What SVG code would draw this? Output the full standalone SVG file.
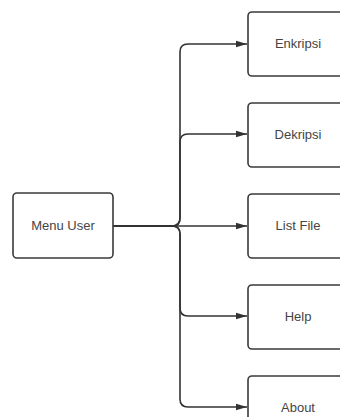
<svg xmlns="http://www.w3.org/2000/svg" width="340" height="417" viewBox="0 0 340 417">
<style>
.box{fill:#fff;stroke:#3a3a3a;stroke-width:1.6}
.lbl{font-family:"Liberation Sans",Arial,sans-serif;font-size:13px;fill:#444;text-anchor:middle}
.edge{fill:none;stroke:#333;stroke-width:1.6}
</style>
<defs>
<marker id="ah" markerWidth="11" markerHeight="8" refX="11" refY="4" orient="auto" markerUnits="userSpaceOnUse">
<path d="M0,0.8 L11,4 L0,7.2 Z" fill="#333"/>
</marker>
</defs>
<rect width="340" height="417" fill="#fff"/>
<g id="connectors">
<path class="edge" marker-end="url(#ah)" d="M113,226 H172 Q180,226 180,218 V52 Q180,44 188,44 H247"/>
<path class="edge" marker-end="url(#ah)" d="M113,226 H172 Q180,226 180,218 V142 Q180,134 188,134 H247"/>
<path class="edge" marker-end="url(#ah)" d="M113,226 H247"/>
<path class="edge" marker-end="url(#ah)" d="M113,226 H172 Q180,226 180,234 V308 Q180,316 188,316 H247"/>
<path class="edge" marker-end="url(#ah)" d="M113,226 H172 Q180,226 180,234 V399 Q180,407 188,407 H247"/>
</g>
<g id="menu-user"><rect class="box" x="13" y="193" width="100" height="65" rx="4"/><text class="lbl" x="63" y="230">Menu User</text></g>
<g id="enkripsi"><rect class="box" x="248" y="12" width="100" height="64" rx="4"/><text class="lbl" x="298" y="48">Enkripsi</text></g>
<g id="dekripsi"><rect class="box" x="248" y="103" width="100" height="64" rx="4"/><text class="lbl" x="298" y="139">Dekripsi</text></g>
<g id="list-file"><rect class="box" x="248" y="194" width="100" height="64" rx="4"/><text class="lbl" x="298" y="230">List File</text></g>
<g id="help"><rect class="box" x="248" y="285" width="100" height="64" rx="4"/><text class="lbl" x="298" y="321">Help</text></g>
<g id="about"><rect class="box" x="248" y="376" width="100" height="64" rx="4"/><text class="lbl" x="298" y="412">About</text></g>
</svg>
